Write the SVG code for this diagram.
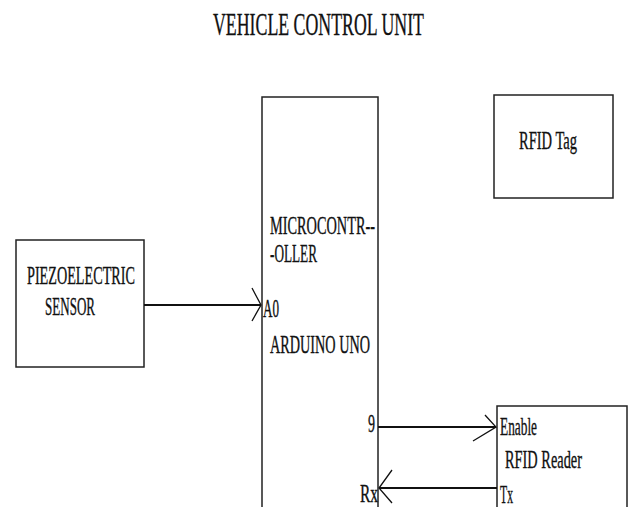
<svg xmlns="http://www.w3.org/2000/svg" width="633" height="507" viewBox="0 0 633 507">
<style>
.box{fill:#fff;stroke:#222;stroke-width:1.5}
.t{font-family:"Liberation Serif","Times New Roman",serif;font-size:25px;fill:#111;stroke:#111;stroke-width:0.35}
.title{font-size:31px}
.ln{fill:none;stroke:#111;stroke-width:2}
.hd{fill:none;stroke:#111;stroke-width:1.3}
</style>
<rect width="633" height="507" fill="#fff"/>
<text class="t title" x="213" y="35" textLength="211" lengthAdjust="spacingAndGlyphs">VEHICLE CONTROL UNIT</text>
<g id="piezo">
<rect class="box" x="16" y="240" width="128" height="127"/>
<text class="t" x="27" y="284" textLength="108" lengthAdjust="spacingAndGlyphs">PIEZOELECTRIC</text>
<text class="t" x="45" y="315" textLength="50" lengthAdjust="spacingAndGlyphs">SENSOR</text>
</g>
<g id="mcu">
<rect class="box" x="262" y="97" width="116" height="420"/>
<text class="t" x="270" y="234" textLength="105" lengthAdjust="spacingAndGlyphs">MICROCONTR--</text>
<text class="t" x="270" y="262" textLength="47" lengthAdjust="spacingAndGlyphs">-OLLER</text>
<text class="t" x="263" y="317" textLength="16" lengthAdjust="spacingAndGlyphs">A0</text>
<text class="t" x="270" y="353" textLength="100" lengthAdjust="spacingAndGlyphs">ARDUINO UNO</text>
<text class="t" x="368" y="432" textLength="7" lengthAdjust="spacingAndGlyphs">9</text>
<text class="t" x="360" y="502" textLength="18" lengthAdjust="spacingAndGlyphs">Rx</text>
</g>
<g id="rfid-tag">
<rect class="box" x="494" y="95" width="119" height="103"/>
<text class="t" x="519" y="149" textLength="58" lengthAdjust="spacingAndGlyphs">RFID Tag</text>
</g>
<g id="rfid-reader">
<rect class="box" x="497" y="406" width="130" height="110"/>
<text class="t" x="500" y="435" textLength="37" lengthAdjust="spacingAndGlyphs">Enable</text>
<text class="t" x="505" y="468" textLength="77" lengthAdjust="spacingAndGlyphs">RFID Reader</text>
<text class="t" x="500" y="503" textLength="13" lengthAdjust="spacingAndGlyphs">Tx</text>
</g>
<g id="connectors">
<line class="ln" x1="144" y1="305" x2="261" y2="305"/>
<polyline class="hd" points="252,288 261,305 252,321"/>
<line class="ln" x1="378" y1="427" x2="496" y2="427"/>
<polyline class="hd" points="485,415 496,427 473,441"/>
<line class="ln" x1="497" y1="488" x2="379" y2="488"/>
<polyline class="hd" points="392,470 379,488 392,503"/>
</g>
</svg>
